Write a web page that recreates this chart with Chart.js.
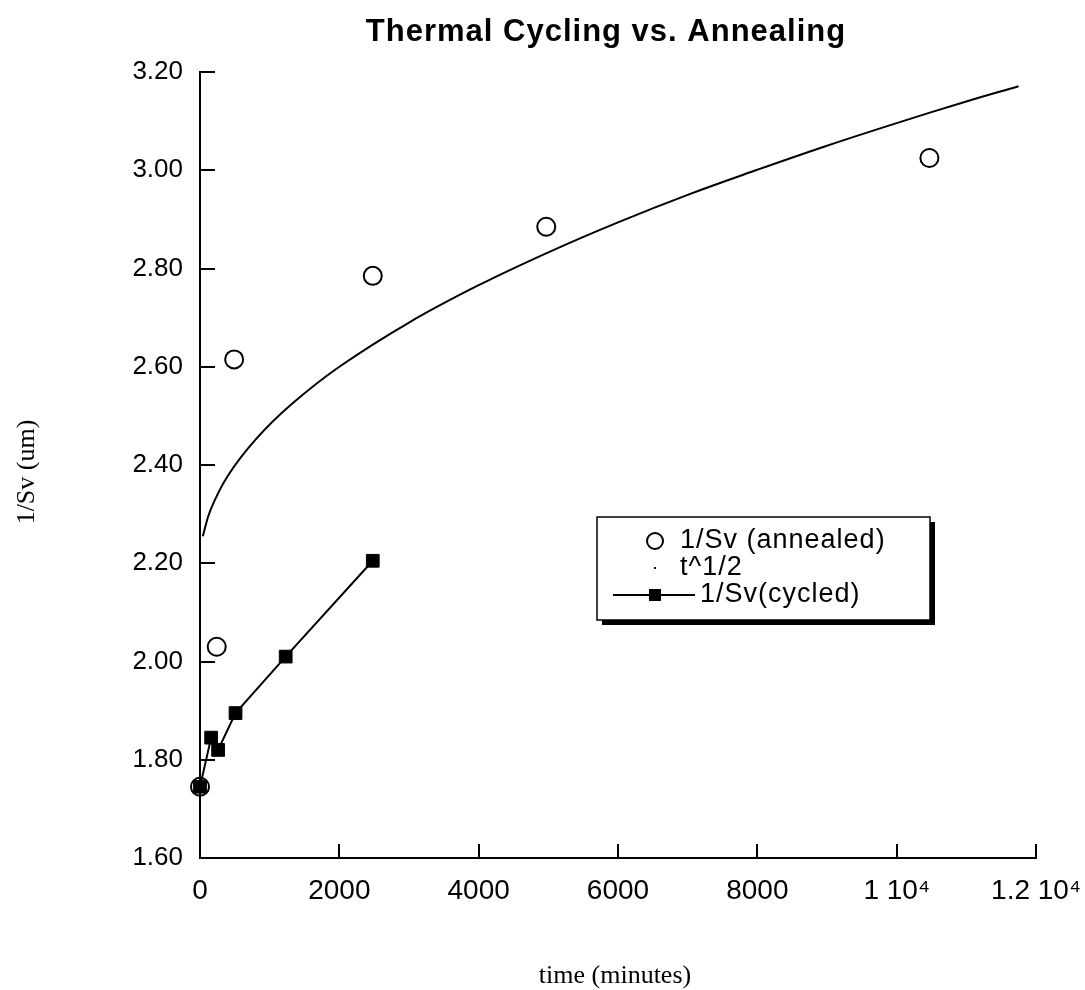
<!DOCTYPE html>
<html>
<head>
<meta charset="utf-8">
<script src="https://cdn.jsdelivr.net/npm/chart.js@4.4.1/dist/chart.umd.min.js"></script>
<style>
  html, body { margin: 0; padding: 0; background: #fff; }
  canvas { display: block; }
</style>
</head>
<body>
<canvas id="myChart" width="1085" height="990"></canvas>
<script>
// values
const annealedTime = [0, 240, 490, 2480, 4970, 10470];
const annealedInvSv = [1.745, 2.03, 2.615, 2.785, 2.885, 3.025];

const cycledTime = [0, 160, 260, 510, 1230, 2480];
const cycledInvSv = [1.745, 1.845, 1.82, 1.895, 2.01, 2.205];

// the t^1/2 curve, traced point by point
const fitTime = [40, 150, 400, 800, 1300, 2000, 3000, 4000, 5000, 6000, 7000, 8000, 9000, 10000, 11000, 11750];
const fitInvSv = [2.255, 2.308, 2.378, 2.452, 2.522, 2.600, 2.690, 2.766, 2.833, 2.894, 2.950, 3.001, 3.050, 3.096, 3.140, 3.171];

const xTickLabels = ['0', '2000', '4000', '6000', '8000', '1 10\u2074', '1.2 10\u2074'];
const yTickLabels = ['1.60', '1.80', '2.00', '2.20', '2.40', '2.60', '2.80', '3.00', '3.20'];

const seriesNames = ['1/Sv (annealed)', 't^1/2', '1/Sv(cycled)'];
const chartTitle = 'Thermal Cycling vs. Annealing';
const xTitle = 'time (minutes)';
const yTitle = '1/Sv (um)';

function pairs(xs, ys) {
    return xs.map(function (v, i) { return { x: v, y: ys[i] }; });
}

const sans = '"Liberation Sans", Arial, sans-serif';
const serif = '"Liberation Serif", "Times New Roman", serif';

const decor = {
    id: 'decor',
    afterDraw(chart) {
        const ctx = chart.ctx;
        const a = chart.chartArea;
        const x = chart.scales.x;
        const y = chart.scales.y;
        ctx.save();
        ctx.strokeStyle = '#000';
        ctx.fillStyle = '#000';
        ctx.lineWidth = 2;

        // inward tick marks
        y.ticks.forEach(function (t) {
            const py = Math.round(y.getPixelForValue(t.value));
            ctx.beginPath(); ctx.moveTo(a.left, py); ctx.lineTo(a.left + 15, py); ctx.stroke();
        });
        x.ticks.forEach(function (t) {
            const px = Math.round(x.getPixelForValue(t.value));
            ctx.beginPath(); ctx.moveTo(px, a.bottom); ctx.lineTo(px, a.bottom - 14); ctx.stroke();
        });

        // title
        ctx.font = 'bold 31px ' + sans;
        ctx.letterSpacing = '1px';
        ctx.textAlign = 'center';
        ctx.textBaseline = 'middle';
        ctx.fillText(chartTitle, 606, 32);
        ctx.letterSpacing = '0px';

        // axis titles
        ctx.font = '26px ' + serif;
        ctx.fillText(xTitle, 615, 976);
        ctx.save();
        ctx.translate(27, 472);
        ctx.rotate(-Math.PI / 2);
        ctx.fillText(yTitle, 0, 0);
        ctx.restore();

        // legend box with drop shadow
        const lx = 597, ly = 517, lw = 333, lh = 103;
        ctx.fillRect(lx + 5, ly + 5, lw, lh);
        ctx.fillStyle = '#fff';
        ctx.fillRect(lx, ly, lw, lh);
        ctx.fillStyle = '#000';
        ctx.lineWidth = 1.5;
        ctx.strokeRect(lx, ly, lw, lh);

        const rows = [ly + 24, ly + 51, ly + 78];
        const mx = lx + 58;
        ctx.textAlign = 'left';
        ctx.font = '27px ' + sans;
        ctx.letterSpacing = '1px';

        // annealed: open circle
        ctx.lineWidth = 2;
        ctx.beginPath(); ctx.arc(mx, rows[0], 8, 0, Math.PI * 2); ctx.stroke();
        ctx.fillText(seriesNames[0], lx + 83, rows[0]);

        // fit: tiny dot
        ctx.fillRect(mx - 1, rows[1] - 1, 2, 2);
        ctx.fillText(seriesNames[1], lx + 83, rows[1]);

        // cycled: line with filled square
        ctx.beginPath(); ctx.moveTo(lx + 16, rows[2]); ctx.lineTo(lx + 98, rows[2]); ctx.stroke();
        ctx.fillRect(mx - 6, rows[2] - 6, 12, 12);
        ctx.fillText(seriesNames[2], lx + 103, rows[2]);

        ctx.restore();
    }
};

const ctx = document.getElementById('myChart');

const myChart = new Chart(ctx, {
    type: 'scatter',
    data: {
        datasets: [
            {
                label: seriesNames[0],
                data: pairs(annealedTime, annealedInvSv),
                showLine: false,
                clip: false,
                pointStyle: 'circle',
                pointRadius: 9,
                pointBorderWidth: 2,
                pointBackgroundColor: 'rgba(255,255,255,0)',
                pointBorderColor: '#000'
            },
            {
                label: seriesNames[1],
                data: pairs(fitTime, fitInvSv),
                showLine: true,
                pointRadius: 0,
                borderColor: '#000',
                borderWidth: 2,
                tension: 0.4,
                fill: false
            },
            {
                label: seriesNames[2],
                data: pairs(cycledTime, cycledInvSv),
                showLine: true,
                clip: false,
                borderColor: '#000',
                borderWidth: 2,
                pointStyle: 'rect',
                pointRadius: 9,
                pointBorderWidth: 1,
                pointBackgroundColor: '#000',
                pointBorderColor: '#000',
                fill: false
            }
        ]
    },
    options: {
        responsive: false,
        animation: false,
        layout: { padding: { top: 72, right: 49, bottom: 0, left: 0 } },
        plugins: {
            legend: { display: false },
            title: { display: false },
            tooltip: { enabled: false }
        },
        scales: {
            x: {
                type: 'linear',
                min: 0,
                max: 12000,
                afterFit: function (s) {
                    s.height = 132;
                    s.paddingLeft = 0;
                    s.paddingRight = 0;
                },
                afterBuildTicks: function (s) {
                    s.ticks = xTickLabels.map(function (l, i) { return { value: i * 2000 }; });
                },
                ticks: {
                    autoSkip: false,
                    maxRotation: 0,
                    padding: 16,
                    color: '#000',
                    font: { family: sans, size: 28 },
                    callback: function (v, i) { return xTickLabels[i]; }
                },
                grid: { drawOnChartArea: false, drawTicks: false },
                border: { display: true, color: '#000', width: 2 }
            },
            y: {
                type: 'linear',
                min: 1.6,
                max: 3.2,
                afterFit: function (s) {
                    s.width = 200;
                    s.paddingTop = 0;
                    s.paddingBottom = 0;
                },
                afterBuildTicks: function (s) {
                    s.ticks = yTickLabels.map(function (l) { return { value: parseFloat(l) }; });
                },
                ticks: {
                    autoSkip: false,
                    padding: 17,
                    color: '#000',
                    font: { family: sans, size: 26 },
                    callback: function (v, i) { return yTickLabels[i]; }
                },
                grid: { drawOnChartArea: false, drawTicks: false },
                border: { display: true, color: '#000', width: 2 }
            }
        }
    },
    plugins: [decor]
});
</script>
</body>
</html>
